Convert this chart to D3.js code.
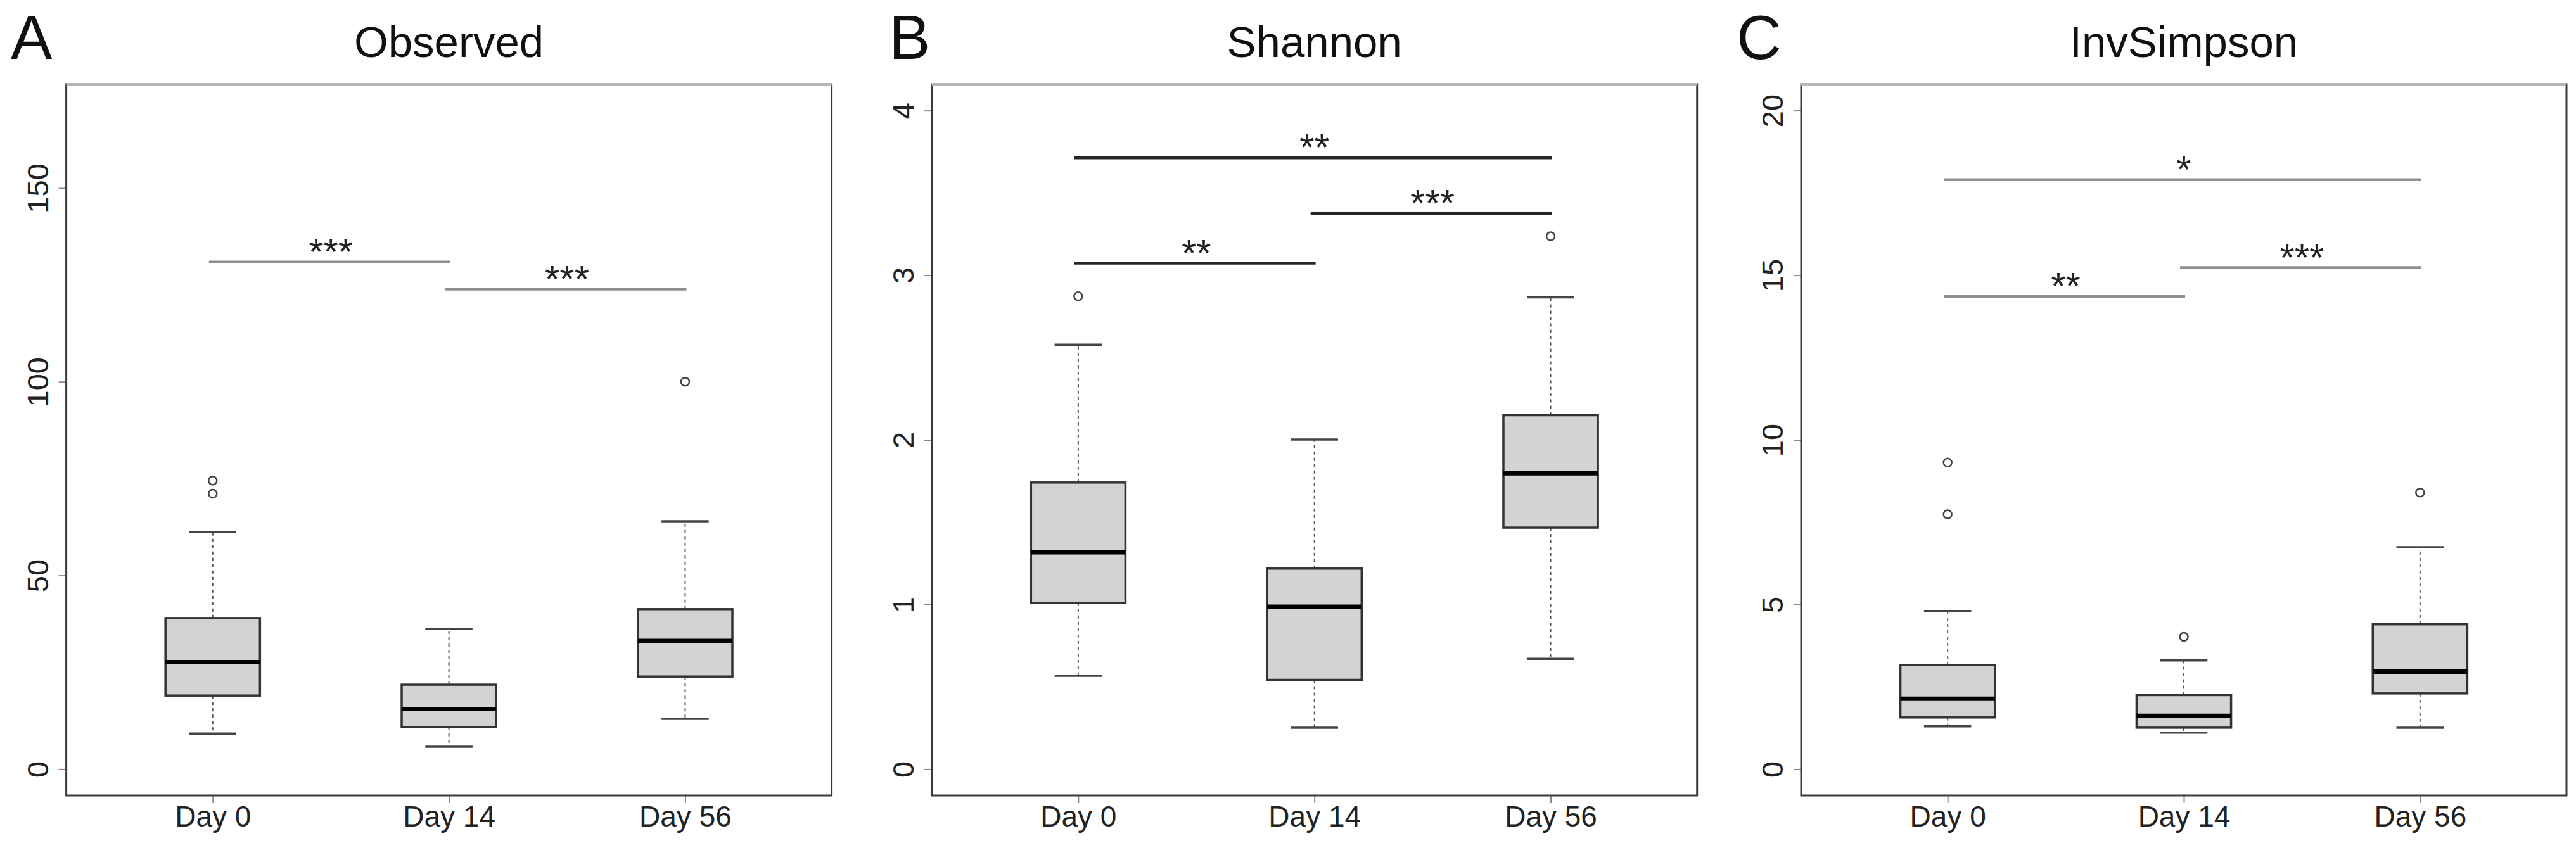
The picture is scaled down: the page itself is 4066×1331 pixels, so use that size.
<!DOCTYPE html>
<html>
<head>
<meta charset="utf-8">
<script src="https://cdn.jsdelivr.net/npm/d3@7"></script>
<style>
  body { margin: 0; background: #fff; }
  svg { display: block; font-family: "Liberation Sans", Arial, sans-serif; }
</style>
</head>
<body>
<svg id="chart" width="4066" height="1331"></svg>
<script>
// groups on the x axis
var groups = ["Day 0", "Day 14", "Day 56"];

// five-number summaries per group: [lower whisker, Q1, median, Q3, upper whisker]
var observedBoxes = [[9.2, 19.0, 27.6, 39.0, 61.2], [5.8, 10.9, 15.5, 21.8, 36.2], [13.0, 23.9, 33.1, 41.3, 64.0]];
var observedOutliers = [[74.5, 71.1], [], [100]];
var observedSig = [[1, 2, 130.9, "***"], [2, 3, 123.9, "***"]];
var observedTicks = [0, 50, 100, 150];
var observedMax = 170;

var shannonBoxes = [[0.567, 1.010, 1.317, 1.741, 2.578], [0.252, 0.542, 0.986, 1.218, 2.002], [0.670, 1.467, 1.797, 2.150, 2.866]];
var shannonOutliers = [[2.872], [], [3.237]];
var shannonSig = [[1, 3, 3.713, "**"], [2, 3, 3.374, "***"], [1, 2, 3.073, "**"]];
var shannonTicks = [0, 1, 2, 3, 4];
var shannonMax = 4;

var invSimpsonBoxes = [[1.30, 1.57, 2.14, 3.16, 4.80], [1.11, 1.26, 1.62, 2.25, 3.30], [1.26, 2.30, 2.96, 4.40, 6.74]];
var invSimpsonOutliers = [[9.31, 7.74], [4.02], [8.40]];
var invSimpsonSig = [[1, 3, 17.9, "*"], [2, 3, 15.23, "***"], [1, 2, 14.36, "**"]];
var invSimpsonTicks = [0, 5, 10, 15, 20];
var invSimpsonMax = 20;

var panels = [
    {letter: "A", title: "Observed", boxes: observedBoxes, outliers: observedOutliers, sig: observedSig, ticks: observedTicks, max: observedMax, left: 104.6, letterX: 17, sigColor: "#8f8f8f"},
    {letter: "B", title: "Shannon", boxes: shannonBoxes, outliers: shannonOutliers, sig: shannonSig, ticks: shannonTicks, max: shannonMax, left: 1470.7, letterX: 1403, sigColor: "#262626"},
    {letter: "C", title: "InvSimpson", boxes: invSimpsonBoxes, outliers: invSimpsonOutliers, sig: invSimpsonSig, ticks: invSimpsonTicks, max: invSimpsonMax, left: 2843, letterX: 2741, sigColor: "#8f8f8f"}
];

var plotW = 1208, plotTop = 133, plotBottom = 1256;
var svg = d3.select("#chart");

panels.forEach(function (p) {
    var x = d3.scaleLinear().domain([0.38, 3.62]).range([p.left, p.left + plotW]);
    var y = d3.scaleLinear().domain([-0.04 * p.max, 1.04 * p.max]).range([plotBottom, plotTop]);
    var g = svg.append("g");

    // panel letter and title
    g.append("text").attr("x", p.letterX).attr("y", 93)
        .attr("font-size", 98).attr("fill", "#111").text(p.letter);
    g.append("text").attr("x", p.left + plotW / 2).attr("y", 90)
        .attr("text-anchor", "middle").attr("font-size", 69).attr("fill", "#111").text(p.title);

    // y axis, labels parallel to the axis like R
    var ya = g.append("g").attr("transform", "translate(" + p.left + ",0)")
        .call(d3.axisLeft(y).tickValues(p.ticks).tickSize(12).tickFormat(d3.format("d")));
    ya.select(".domain").remove();
    ya.selectAll(".tick line").attr("stroke", "#888").attr("stroke-width", 2);
    ya.selectAll(".tick text")
        .attr("x", null).attr("dy", null)
        .attr("text-anchor", "middle")
        .attr("transform", "translate(-29,0) rotate(-90)")
        .attr("font-size", 47).attr("fill", "#222");

    // x axis
    var xa = g.append("g").attr("transform", "translate(0," + plotBottom + ")")
        .call(d3.axisBottom(x).tickValues([1, 2, 3]).tickSize(12).tickFormat(function (d) { return groups[d - 1] }));
    xa.select(".domain").remove();
    xa.selectAll(".tick line").attr("stroke", "#888").attr("stroke-width", 2);
    xa.selectAll(".tick text").attr("y", 49).attr("dy", null)
        .attr("font-size", 46).attr("fill", "#222");

    // boxes
    p.boxes.forEach(function (b, i) {
        var c = i + 1;
        var bg = g.append("g");
        // whiskers
        bg.append("line").attr("x1", x(c)).attr("x2", x(c)).attr("y1", y(b[3])).attr("y2", y(b[4]))
            .attr("stroke", "#555").attr("stroke-width", 2).attr("stroke-dasharray", "5,5");
        bg.append("line").attr("x1", x(c)).attr("x2", x(c)).attr("y1", y(b[1])).attr("y2", y(b[0]))
            .attr("stroke", "#555").attr("stroke-width", 2).attr("stroke-dasharray", "5,5");
        // staples
        [b[0], b[4]].forEach(function (v) {
            bg.append("line").attr("x1", x(c - 0.1)).attr("x2", x(c + 0.1)).attr("y1", y(v)).attr("y2", y(v))
                .attr("stroke", "#444").attr("stroke-width", 3.5);
        });
        bg.append("rect").attr("x", x(c - 0.2)).attr("width", x(c + 0.2) - x(c - 0.2))
            .attr("y", y(b[3])).attr("height", y(b[1]) - y(b[3]))
            .attr("fill", "#d3d3d3").attr("stroke", "#333").attr("stroke-width", 3.5);
        bg.append("line").attr("x1", x(c - 0.2)).attr("x2", x(c + 0.2)).attr("y1", y(b[2])).attr("y2", y(b[2]))
            .attr("stroke", "#000").attr("stroke-width", 7);
        // outliers
        p.outliers[i].forEach(function (v) {
            bg.append("circle").attr("cx", x(c)).attr("cy", y(v)).attr("r", 6.5)
                .attr("fill", "none").attr("stroke", "#444").attr("stroke-width", 2.5);
        });
    });

    // significance bars
    p.sig.forEach(function (s) {
        g.append("line").attr("x1", x(s[0]) - 6).attr("x2", x(s[1]) + 2).attr("y1", y(s[2])).attr("y2", y(s[2]))
            .attr("stroke", p.sigColor).attr("stroke-width", 4.5);
        g.append("text").attr("x", (x(s[0]) + x(s[1])) / 2).attr("y", y(s[2]) + 4)
            .attr("text-anchor", "middle").attr("font-size", 60).attr("fill", "#222").text(s[3]);
    });

    // frame
    g.append("rect").attr("x", p.left).attr("y", plotTop).attr("width", plotW).attr("height", plotBottom - plotTop)
        .attr("fill", "none").attr("stroke", "#3a3a3a").attr("stroke-width", 3);
    g.append("line").attr("x1", p.left).attr("x2", p.left + plotW).attr("y1", plotTop).attr("y2", plotTop)
        .attr("stroke", "#b5b5b5").attr("stroke-width", 4);
});
</script>
</body>
</html>
